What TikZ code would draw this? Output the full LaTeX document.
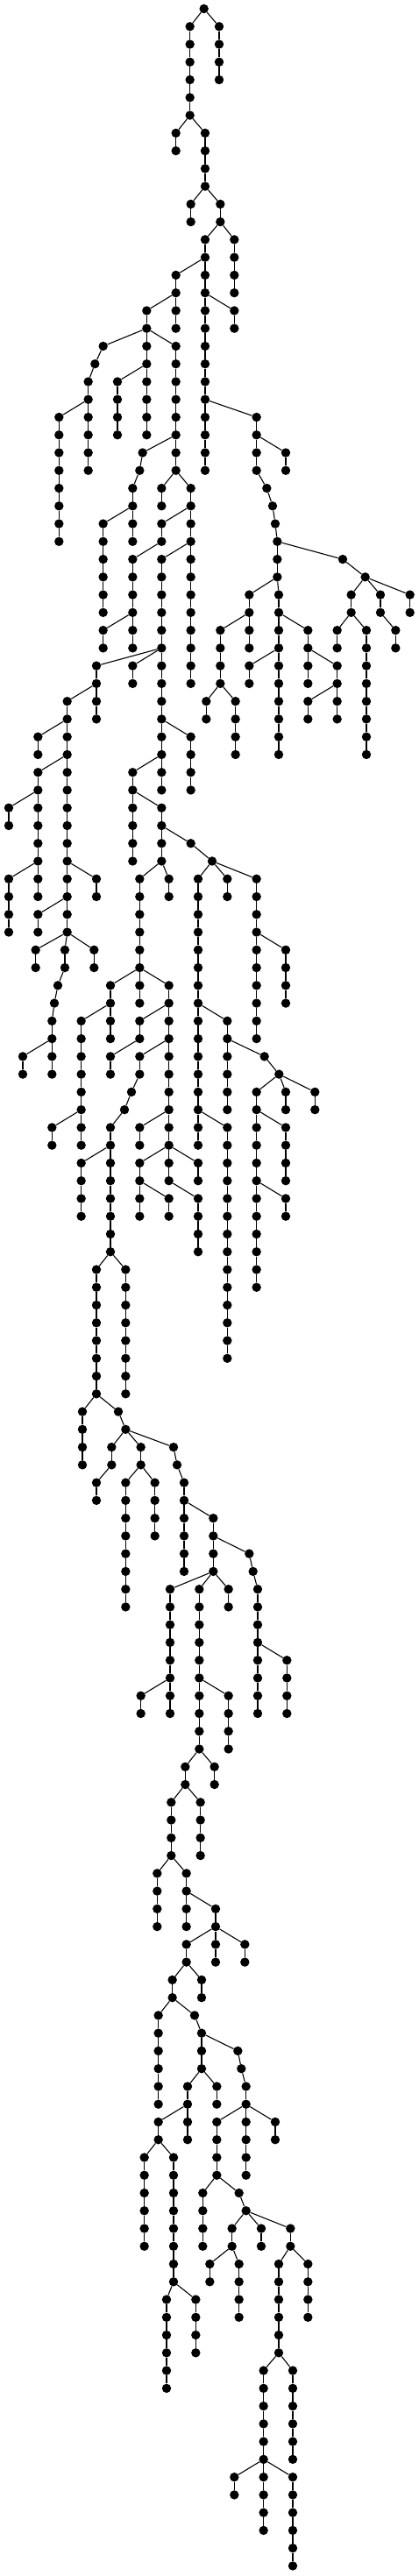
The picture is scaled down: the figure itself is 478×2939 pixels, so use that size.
\documentclass[tikz,border=0pt]{standalone}
\begin{document}
\begin{tikzpicture}[x=0.33333pt, y=-20.26pt,
    dot/.style={circle, fill=black, inner sep=0pt, minimum size=10.4pt},
    edge/.style={line width=1.1pt}]
    % fix the page size
    \useasboundingbox (0pt,10pt) rectangle (478pt,-2929pt);

    % the root of the tree
    \node[dot] (v698-0) at (698,0) {};

    % the chains of the tree: column / first level / last level / column of the parent
    % (a node is named v<column>-<level>, its parent sits one level higher)
    \foreach \x/\a/\b/\p in {
        650/1/6/698, 750/1/4/698, 602/7/8/650, 702/7/10/650,
        653/11/12/702, 754/11/12/702, 802/13/16/754, 702/13/14/754,
        602/15/16/702, 702/15/16/702, 602/17/18/602, 502/17/18/602,
        353/19/19/502, 325/20/20/353, 302/21/22/325, 202/23/30/302, 302/23/26/302,
        502/19/20/502, 402/21/24/502, 502/21/24/502, 602/19/24/502,
        488/25/25/602, 478/26/26/488, 454/27/30/478, 353/29/34/454,
        602/25/26/602, 553/27/28/602, 653/27/38/602, 553/29/30/653,
        454/31/36/553, 353/35/36/454, 553/31/44/653,
        330/37/40/553, 454/37/38/553, 230/39/52/330, 130/41/42/230,
        130/43/50/230, 30/45/46/130, 30/49/52/130, 330/49/50/230, 130/51/52/230,
        122/53/54/230, 222/53/54/230, 322/53/54/230,
        198/55/55/222, 186/56/56/198, 178/57/58/186, 78/59/60/178, 178/59/60/178,
        653/41/44/553, 454/43/48/553, 553/45/48/454, 653/47/47/553, 726/48/48/653,
        578/49/50/553, 478/49/56/553, 378/55/58/478, 578/55/66/478,
        278/57/64/378, 178/63/64/278, 478/57/58/578, 378/59/60/478, 478/59/60/578,
        450/61/61/478, 426/62/62/450, 378/63/70/426, 278/65/68/378,
        330/71/78/378, 430/71/78/378, 282/79/82/330, 405/79/79/330, 430/80/80/405,
        382/81/82/430, 330/83/84/382, 482/81/82/430, 430/83/90/482, 530/83/86/482,
        594/81/81/430, 606/82/82/594, 630/83/88/606, 730/85/88/630,
        853/87/87/730, 866/88/88/853, 882/89/96/866, 982/93/96/882,
        582/89/96/730, 482/95/96/582, 682/89/98/730, 782/95/98/682, 782/89/90/730,
        634/99/100/682, 734/99/100/682, 586/101/104/634, 686/101/104/634,
        538/105/108/586, 638/105/108/586, 738/107/108/638,
        638/109/110/738, 738/109/110/738, 838/109/110/738,
        590/111/112/638, 690/111/112/638, 542/113/118/590, 666/113/113/590,
        690/114/116/666, 814/115/115/690, 826/116/116/814, 842/117/122/826,
        742/119/122/842, 942/119/120/842, 642/117/120/690, 742/117/118/690,
        542/119/120/642, 494/121/126/542, 594/121/128/542,
        570/129/134/594, 670/129/132/594,
        694/123/126/742, 818/123/123/742, 842/124/124/818,
        794/125/126/842, 894/125/126/842, 994/125/126/842,
        718/127/128/794, 818/127/130/794, 954/127/132/994, 1054/127/130/994,
        902/133/142/954, 1002/133/138/954, 802/139/140/902, 1002/139/144/902,
        478/63/64/578, 478/65/68/578, 578/67/68/478, 678/65/66/578, 678/67/70/578,
        678/49/64/726, 778/49/50/726, 778/57/62/678, 905/59/59/778, 955/60/60/905,
        878/61/72/955, 978/61/62/955, 1078/61/62/955, 978/63/66/878, 978/67/68/878,
        778/63/76/678, 878/49/58/726, 978/53/56/878,
        802/17/18/702, 702/17/26/702, 878/23/26/702, 978/25/26/878,
        913/27/27/878, 933/28/28/913, 942/29/29/933, 949/30/32/942,
        1173/31/31/949, 1250/32/32/1173,
        1202/33/34/1250, 1302/33/34/1250, 1403/33/34/1250,
        1154/35/36/1202, 1254/35/42/1202, 1354/35/36/1302,
        853/33/34/949, 954/33/34/949, 754/35/38/853, 853/35/36/853,
        706/39/40/754, 806/39/42/754, 954/35/42/954, 1054/35/38/954,
        853/37/38/954, 1154/37/38/1054, 1054/39/40/1154, 1154/39/40/1154}{
        \pgfmathtruncatemacro\up{\a-1}
        \foreach \l in {\a,...,\b}{
            \node[dot] (v\x-\l) at (\x,\l) {};
            \ifnum\l>\a
                \pgfmathtruncatemacro\k{\l-1}
                \draw[edge] (v\x-\k) -- (v\x-\l);
            \fi
        }
        % link the chain to its parent
        \draw[edge] (v\p-\up) -- (v\x-\a);
    }

\end{tikzpicture}
\end{document}
